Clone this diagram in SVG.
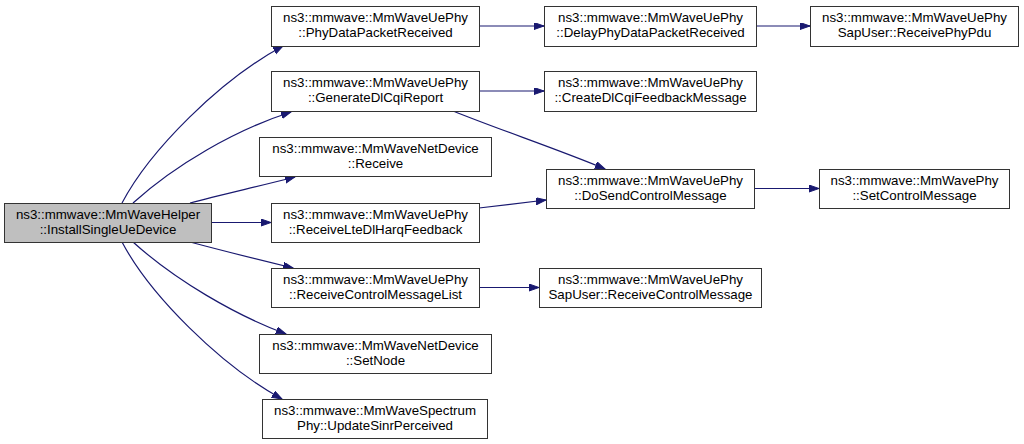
<svg xmlns="http://www.w3.org/2000/svg" width="1024" height="444" viewBox="0 0 1024 444">
<style>
.n rect{fill:#fff;stroke:#333;stroke-width:1}
.root rect{fill:#bfbfbf}
text{font-family:"Liberation Sans",Arial,sans-serif;font-size:13.3px;fill:#000;text-anchor:middle}
.e path{fill:none;stroke:#191970;stroke-width:1.2;marker-end:url(#ah)}
</style>
<defs>
<marker id="ah" markerUnits="userSpaceOnUse" markerWidth="11" markerHeight="8" refX="10" refY="3.5" orient="auto">
<path d="M0,0 L10,3.5 L0,7 z" fill="#191970" stroke="#191970" stroke-width="1"/>
</marker>
</defs>
<rect width="1024" height="444" fill="#fff"/>
<g class="e" id="edges">
<path d="M122,203 C150,150 220,80 283,46"/>
<path d="M133,203 C175,165 235,130 291,112"/>
<path d="M190,203 C220,195 260,186 295,177"/>
<path d="M211,222.5 L271,222.5"/>
<path d="M190,242 C220,250 260,260 293,268"/>
<path d="M133,242 C175,280 235,315 286,334"/>
<path d="M122,242 C150,295 220,365 282,399"/>
<path d="M479,26 L544,26"/>
<path d="M479,91 L544,91"/>
<path d="M453,111 C500,130 560,150 605,169"/>
<path d="M479,208 L546,200"/>
<path d="M479,287.5 L539,287.5"/>
<path d="M756,26 L810,26"/>
<path d="M754,188.5 L819,188.5"/>
</g>
<g class="n root" id="n_root"><rect x="4.5" y="203.5" width="207" height="39"/><text x="108" y="219">ns3::mmwave::MmWaveHelper</text><text x="108" y="234">::InstallSingleUeDevice</text></g>
<g class="n" id="n_phydata"><rect x="271.5" y="6.5" width="208" height="40"/><text x="375.5" y="22">ns3::mmwave::MmWaveUePhy</text><text x="375.5" y="37">::PhyDataPacketReceived</text></g>
<g class="n" id="n_gencqi"><rect x="271.5" y="71.5" width="208" height="40"/><text x="375.5" y="87">ns3::mmwave::MmWaveUePhy</text><text x="375.5" y="102">::GenerateDlCqiReport</text></g>
<g class="n" id="n_receive"><rect x="259.5" y="137.5" width="232" height="39"/><text x="375.5" y="153">ns3::mmwave::MmWaveNetDevice</text><text x="375.5" y="168">::Receive</text></g>
<g class="n" id="n_harq"><rect x="271.5" y="203.5" width="208" height="39"/><text x="375.5" y="219">ns3::mmwave::MmWaveUePhy</text><text x="375.5" y="234">::ReceiveLteDlHarqFeedback</text></g>
<g class="n" id="n_rcml"><rect x="271.5" y="268.5" width="208" height="39"/><text x="375.5" y="284">ns3::mmwave::MmWaveUePhy</text><text x="375.5" y="299">::ReceiveControlMessageList</text></g>
<g class="n" id="n_setnode"><rect x="259.5" y="334.5" width="232" height="39"/><text x="375.5" y="350">ns3::mmwave::MmWaveNetDevice</text><text x="375.5" y="365">::SetNode</text></g>
<g class="n" id="n_sinr"><rect x="262.5" y="399.5" width="225" height="39"/><text x="375" y="415">ns3::mmwave::MmWaveSpectrum</text><text x="375" y="430">Phy::UpdateSinrPerceived</text></g>
<g class="n" id="n_delay"><rect x="544.5" y="6.5" width="212" height="40"/><text x="650.5" y="22">ns3::mmwave::MmWaveUePhy</text><text x="650.5" y="37">::DelayPhyDataPacketReceived</text></g>
<g class="n" id="n_createcqi"><rect x="544.5" y="71.5" width="212" height="40"/><text x="650.5" y="87">ns3::mmwave::MmWaveUePhy</text><text x="650.5" y="102">::CreateDlCqiFeedbackMessage</text></g>
<g class="n" id="n_dosend"><rect x="546.5" y="169.5" width="208" height="39"/><text x="650.5" y="185">ns3::mmwave::MmWaveUePhy</text><text x="650.5" y="200">::DoSendControlMessage</text></g>
<g class="n" id="n_sapctrl"><rect x="539.5" y="268.5" width="222" height="39"/><text x="650.5" y="284">ns3::mmwave::MmWaveUePhy</text><text x="650.5" y="299">SapUser::ReceiveControlMessage</text></g>
<g class="n" id="n_pdu"><rect x="810.5" y="6.5" width="208" height="40"/><text x="914.5" y="22">ns3::mmwave::MmWaveUePhy</text><text x="914.5" y="37">SapUser::ReceivePhyPdu</text></g>
<g class="n" id="n_setctrl"><rect x="819.5" y="169.5" width="190" height="39"/><text x="914.5" y="185">ns3::mmwave::MmWavePhy</text><text x="914.5" y="200">::SetControlMessage</text></g>
</svg>
